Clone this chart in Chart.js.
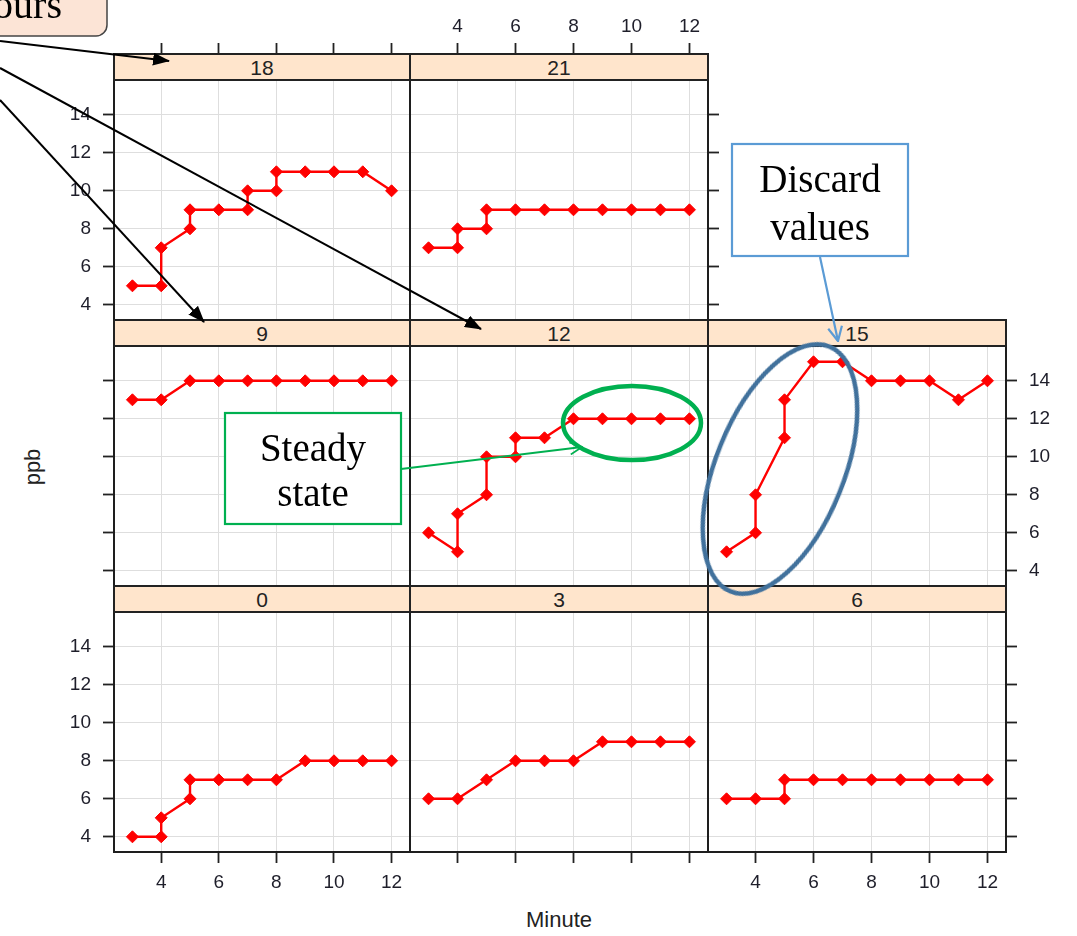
<!DOCTYPE html>
<html>
<head>
<meta charset="utf-8">
<script src="https://cdn.jsdelivr.net/npm/chart.js@4.4.1/dist/chart.umd.min.js"></script>
<style>
html,body{margin:0;padding:0;background:#fff;width:1077px;height:936px;overflow:hidden;}
#wrap{position:relative;width:1077px;height:936px;overflow:hidden;}
canvas.panel{position:absolute;}
.strip{position:absolute;height:28px;background:#ffe5cc;border:2px solid #222;box-sizing:border-box;
  font:21px "Liberation Sans",Arial,sans-serif;color:#222;text-align:center;line-height:25px;}
.axtitle{position:absolute;font:22px "Liberation Sans",Arial,sans-serif;color:#222;white-space:nowrap;}
#anno{position:absolute;left:0;top:0;}
</style>
</head>
<body>
<div id="wrap">
  <div class="axtitle" id="ylab" style="left:33px;top:467px;transform:translate(-50%,-50%) rotate(-90deg);">ppb</div>
  <div class="axtitle" id="xlab" style="left:559px;top:920px;transform:translate(-50%,-50%);">Minute</div>
</div>
<script>
// ---------------- data ----------------
const X_TICKS = [4, 6, 8, 10, 12];
const Y_TICKS = [4, 6, 8, 10, 12, 14];
const PANEL_LABELS = ['18', '21', '9', '12', '15', '0', '3', '6'];

const MIN_18 = [3, 4, 4, 5, 5, 6, 7, 7, 8, 8, 9, 10, 11, 12];
const PPB_18 = [5, 5, 7, 8, 9, 9, 9, 10, 10, 11, 11, 11, 11, 10];

const MIN_21 = [3, 4, 4, 5, 5, 6, 7, 8, 9, 10, 11, 12];
const PPB_21 = [7, 7, 8, 8, 9, 9, 9, 9, 9, 9, 9, 9];

const MIN_9 = [3, 4, 5, 6, 7, 8, 9, 10, 11, 12];
const PPB_9 = [13, 13, 14, 14, 14, 14, 14, 14, 14, 14];

const MIN_12 = [3, 4, 4, 5, 5, 6, 6, 7, 8, 9, 10, 11, 12];
const PPB_12 = [6, 5, 7, 8, 10, 10, 11, 11, 12, 12, 12, 12, 12];

const MIN_15 = [3, 4, 4, 5, 5, 6, 7, 8, 9, 10, 11, 12];
const PPB_15 = [5, 6, 8, 11, 13, 15, 15, 14, 14, 14, 13, 14];

const MIN_0 = [3, 4, 4, 5, 5, 6, 7, 8, 9, 10, 11, 12];
const PPB_0 = [4, 4, 5, 6, 7, 7, 7, 7, 8, 8, 8, 8];

const MIN_3 = [3, 4, 5, 6, 7, 8, 9, 10, 11, 12];
const PPB_3 = [6, 6, 7, 8, 8, 8, 9, 9, 9, 9];

const MIN_6 = [3, 4, 5, 5, 6, 7, 8, 9, 10, 11, 12];
const PPB_6 = [6, 6, 6, 7, 7, 7, 7, 7, 7, 7, 7];

const SERIES = {
  '18': [MIN_18, PPB_18], '21': [MIN_21, PPB_21], '9': [MIN_9, PPB_9], '12': [MIN_12, PPB_12],
  '15': [MIN_15, PPB_15], '0': [MIN_0, PPB_0], '3': [MIN_3, PPB_3], '6': [MIN_6, PPB_6]
};

// ---------------- layout ----------------
const X_MIN = 2.36, X_MAX = 12.64;
const Y_MIN = 3.2, Y_MAX = 17.2;   // top part of area is covered by the strip
const COL_LEFT = [114, 410, 708];
const COL_W = [296, 298, 298];
const ROW_TOP = [54, 320, 586];
const ROW_H = 266;
const M = 60;
const FONT = "'Liberation Sans', Arial, sans-serif";

// panel placement and which axis [ticks, labels] (lattice alternating)
const LAYOUT = {
  '18': {r:0, c:0, top:[1,0], left:[1,1], right:[0,0], bottom:[0,0]},
  '21': {r:0, c:1, top:[1,1], left:[0,0], right:[1,0], bottom:[0,0]},
  '9':  {r:1, c:0, top:[0,0], left:[1,0], right:[0,0], bottom:[0,0]},
  '12': {r:1, c:1, top:[0,0], left:[0,0], right:[0,0], bottom:[0,0]},
  '15': {r:1, c:2, top:[0,0], left:[0,0], right:[1,1], bottom:[0,0]},
  '0':  {r:2, c:0, top:[0,0], left:[1,1], right:[0,0], bottom:[1,1]},
  '3':  {r:2, c:1, top:[0,0], left:[0,0], right:[0,0], bottom:[1,0]},
  '6':  {r:2, c:2, top:[0,0], left:[0,0], right:[1,0], bottom:[1,1]}
};

Chart.defaults.font.family = FONT;

function axis(pos, isX, showTicks, showLabels, onArea) {
  return {
    type: 'linear', position: pos, display: true, bounds: 'data',
    min: isX ? X_MIN : Y_MIN, max: isX ? X_MAX : Y_MAX,
    afterBuildTicks: s => { s.ticks = (isX ? X_TICKS : Y_TICKS).map(v => ({value: v})); },
    afterFit: s => { if (isX) s.height = M; else s.width = M; },
    grid: { display: true, drawOnChartArea: onArea, drawTicks: !!showTicks, tickLength: 11,
            color: '#dedede', lineWidth: 1, tickColor: '#222', tickWidth: 1.8 },
    border: { display: true, color: '#1e1e1e', width: 2 },
    ticks: { display: !!showLabels, padding: isX ? (pos === 'top' ? 5 : 8) : 12, color: '#1e1e2a',
             font: { family: FONT, size: 19 } }
  };
}

const wrap = document.getElementById('wrap');
PANEL_LABELS.forEach(lab => {
  const L = LAYOUT[lab];
  const left = COL_LEFT[L.c], w = COL_W[L.c], top = ROW_TOP[L.r];
  const cv = document.createElement('canvas');
  cv.className = 'panel';
  cv.width = w + 2 * M; cv.height = ROW_H + 2 * M;
  cv.style.left = (left - M) + 'px'; cv.style.top = (top - M) + 'px';
  cv.style.width = cv.width + 'px'; cv.style.height = cv.height + 'px';
  wrap.appendChild(cv);

  const [xs, ys] = SERIES[lab];
  new Chart(cv, {
    type: 'line',
    data: { datasets: [{
      data: xs.map((x, i) => ({x: x, y: ys[i]})),
      borderColor: '#ff0000', backgroundColor: '#ff0000', borderWidth: 2.4,
      pointStyle: 'rectRot', pointRadius: 6, pointBorderWidth: 1,
      pointBorderColor: '#ff0000', pointBackgroundColor: '#ff0000',
      tension: 0, xAxisID: 'x', yAxisID: 'y'
    }]},
    options: {
      responsive: false, animation: false, devicePixelRatio: 1,
      layout: { padding: 0 },
      plugins: { legend: { display: false }, tooltip: { enabled: false } },
      scales: {
        x:  axis('bottom', true,  L.bottom[0], L.bottom[1], true),
        x2: axis('top',    true,  L.top[0],    L.top[1],    false),
        y:  axis('left',   false, L.left[0],   L.left[1],   true),
        y2: axis('right',  false, L.right[0],  L.right[1],  false)
      }
    }
  });

  const st = document.createElement('div');
  st.className = 'strip';
  st.style.left = (left - 1) + 'px';
  st.style.top = (top - 1) + 'px';
  st.style.width = (w + 2) + 'px';
  st.textContent = lab;
  wrap.appendChild(st);
});

// ---------------- annotations ----------------
const svgNS = 'http://www.w3.org/2000/svg';
const SERIF = "'Liberation Serif','Times New Roman',serif";
const anno = `
<svg id="anno" xmlns="${svgNS}" width="1077" height="936" viewBox="0 0 1077 936">
 <defs>
  <marker id="ahB" markerUnits="userSpaceOnUse" markerWidth="17" markerHeight="13" refX="16" refY="6.5" orient="auto">
    <path d="M0,0 L17,6.5 L0,13 z" fill="#000"/>
  </marker>
  <marker id="ahG" markerUnits="userSpaceOnUse" markerWidth="14" markerHeight="14" refX="13" refY="7" orient="auto">
    <path d="M1,1 L13,7 L1,13" fill="none" stroke="#00b050" stroke-width="1.8"/>
  </marker>
  <marker id="ahL" markerUnits="userSpaceOnUse" markerWidth="16" markerHeight="16" refX="15" refY="8" orient="auto">
    <path d="M1,1 L15,8 L1,15" fill="none" stroke="#5b9bd5" stroke-width="2.2"/>
  </marker>
 </defs>
 <rect x="-30" y="-30" width="137" height="66" rx="11" ry="11" fill="#fce4d6" stroke="#444" stroke-width="1.5"/>
 <text x="62" y="17.5" text-anchor="end" font-family="${SERIF}" font-size="40" fill="#000">ours</text>
 <line x1="0" y1="41" x2="169" y2="61" stroke="#000" stroke-width="2" marker-end="url(#ahB)"/>
 <line x1="0" y1="68" x2="481" y2="329" stroke="#000" stroke-width="2" marker-end="url(#ahB)"/>
 <line x1="0" y1="100" x2="204" y2="322" stroke="#000" stroke-width="2" marker-end="url(#ahB)"/>

 <rect x="225" y="413" width="176" height="111" fill="#fff" stroke="#00b050" stroke-width="2.2"/>
 <text x="313" y="461" text-anchor="middle" font-family="${SERIF}" font-size="39" fill="#000">Steady</text>
 <text x="313" y="506" text-anchor="middle" font-family="${SERIF}" font-size="39" fill="#000">state</text>
 <line x1="401" y1="469" x2="582" y2="447" stroke="#00b050" stroke-width="1.8" marker-end="url(#ahG)"/>
 <ellipse cx="632" cy="423" rx="69" ry="37" fill="none" stroke="#00b050" stroke-width="4.5"/>

 <rect x="732" y="144" width="176" height="112" fill="#fff" stroke="#5b9bd5" stroke-width="2.2"/>
 <text x="820" y="192" text-anchor="middle" font-family="${SERIF}" font-size="39" fill="#000">Discard</text>
 <text x="820" y="240" text-anchor="middle" font-family="${SERIF}" font-size="39" fill="#000">values</text>
 <line x1="820" y1="257" x2="838" y2="341" stroke="#5b9bd5" stroke-width="2.2" marker-end="url(#ahL)"/>
 <ellipse cx="780" cy="469" rx="64" ry="132" transform="rotate(22 780 469)" fill="none" stroke="#41719c" stroke-width="4.5"/>
</svg>`;
wrap.insertAdjacentHTML('beforeend', anno);
</script>
</body>
</html>
